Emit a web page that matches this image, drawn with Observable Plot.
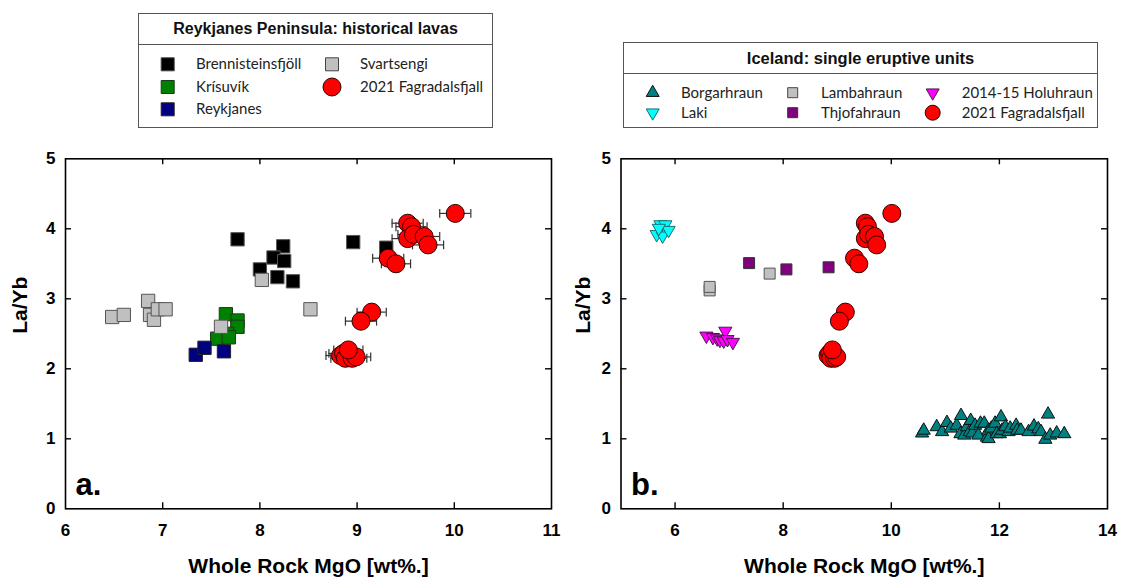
<!DOCTYPE html>
<html>
<head>
<meta charset="utf-8">
<script src="https://cdn.jsdelivr.net/npm/d3@7"></script>
<script src="https://cdn.jsdelivr.net/npm/@observablehq/plot@0.6"></script>
<style>
body { margin: 0; background: #fff; }
#root { position: relative; width: 1121px; height: 579px; overflow: hidden; background: #fff; font-family: "Liberation Sans", Arial, sans-serif; }
.panel { position: absolute; top: 130px; }
.legend { position: absolute; border: 1px solid #555; background: #fff; box-sizing: border-box; }
.legend .title { position: absolute; left: 0; right: 0; top: 0; border-bottom: 1px solid #555; font-weight: bold; text-align: center; color: #111; }
.legend .lab { position: absolute; font-family: Lato, "Open Sans", sans-serif; font-size: 15px; line-height: 1; transform: translateY(-52%); white-space: nowrap; color: #222; }
.legend svg { position: absolute; left: 0; top: 0; overflow: visible; }
</style>
</head>
<body>
<div id="root"></div>
<script>
// ---------- DATA ----------
// Panel a: Reykjanes Peninsula historical lavas
const brennX = [7.77, 8.24, 8.14, 8.25, 8.00, 8.18, 8.34, 8.96, 9.30];
const brennY = [3.85, 3.75, 3.59, 3.54, 3.42, 3.31, 3.25, 3.81, 3.73];
const krisX = [7.65, 7.77, 7.77, 7.66, 7.56, 7.68];
const krisY = [2.78, 2.69, 2.60, 2.50, 2.43, 2.45];
const reykX = [7.34, 7.43, 7.63];
const reykY = [2.20, 2.30, 2.25];
const svartX = [6.48, 6.60, 6.85, 6.87, 6.91, 6.95, 7.03, 7.60, 8.02, 8.52];
const svartY = [2.74, 2.77, 2.97, 2.77, 2.70, 2.85, 2.85, 2.60, 3.27, 2.85];
// 2021 Fagradalsfjall (both panels), with MgO error (±)
const fagX = [10.01, 9.52, 9.56, 9.52, 9.58, 9.69, 9.73, 9.32, 9.40, 9.15, 9.04, 8.83, 8.86, 8.88, 8.95, 8.99, 8.91];
const fagY = [4.22, 4.08, 4.03, 3.86, 3.92, 3.89, 3.77, 3.58, 3.50, 2.81, 2.68, 2.19, 2.22, 2.15, 2.15, 2.17, 2.27];
const fagErr = [0.16, 0.16, 0.16, 0.16, 0.16, 0.16, 0.16, 0.16, 0.15, 0.15, 0.16, 0.15, 0.15, 0.15, 0.15, 0.15, 0.15];
// Panel b: Iceland single eruptive units
const borgX = [10.57, 10.60, 10.84, 10.94, 11.03, 11.10, 11.21, 11.29, 11.28, 11.35, 11.40, 11.47, 11.45, 11.50, 11.55, 11.61, 11.65, 11.72, 11.77, 11.80, 11.80, 11.85, 11.92, 11.95, 12.01, 12.03, 12.05, 12.11, 12.17, 12.20, 12.31, 12.33, 12.40, 12.54, 12.64, 12.72, 12.77, 12.85, 12.90, 12.94, 13.06, 13.20];
const borgY = [1.08, 1.12, 1.17, 1.10, 1.23, 1.15, 1.19, 1.33, 1.07, 1.05, 1.17, 1.26, 1.10, 1.08, 1.19, 1.05, 1.22, 1.22, 1.02, 1.12, 1.00, 1.15, 1.22, 1.07, 1.07, 1.31, 1.12, 1.17, 1.10, 1.15, 1.19, 1.12, 1.12, 1.10, 1.18, 1.14, 1.10, 0.99, 1.35, 1.05, 1.08, 1.07];
const lakiX = [5.73, 5.82, 5.66, 5.77, 5.88, 5.70];
const lakiY = [4.06, 4.06, 3.92, 3.90, 3.98, 4.01];
const lambX = [6.64, 6.64, 7.75];
const lambY = [3.12, 3.17, 3.36];
const thjoX = [7.37, 8.06, 8.84];
const thjoY = [3.51, 3.42, 3.45];
const holuX = [6.58, 6.70, 6.78, 6.83, 6.90, 6.93, 6.97, 7.07];
const holuY = [2.47, 2.45, 2.43, 2.41, 2.40, 2.54, 2.42, 2.38];

const yTicks = [0, 1, 2, 3, 4, 5];
const xTicksA = [6, 7, 8, 9, 10, 11];
const xTicksB = [6, 8, 10, 12, 14];

const legendA = {
  title: "Reykjanes Peninsula: historical lavas",
  items: [
    {name: "Brennisteinsfjöll", shape: "square", fill: "#000000", stroke: "#444"},
    {name: "Krísuvík", shape: "square", fill: "#008000", stroke: "#1b3a1b"},
    {name: "Reykjanes", shape: "square", fill: "#000080", stroke: "#222"},
    {name: "Svartsengi", shape: "square", fill: "#c0c0c0", stroke: "#444"},
    {name: "2021 Fagradalsfjall", shape: "circle", fill: "#ff0000", stroke: "#300"}
  ]
};
const legendB = {
  title: "Iceland: single eruptive units",
  items: [
    {name: "Borgarhraun", shape: "up", fill: "#008080", stroke: "#111"},
    {name: "Laki", shape: "down", fill: "#00ffff", stroke: "#1a6e6e"},
    {name: "Lambahraun", shape: "square", fill: "#c0c0c0", stroke: "#444"},
    {name: "Thjofahraun", shape: "square", fill: "#800080", stroke: "#333"},
    {name: "2014-15 Holuhraun", shape: "down", fill: "#ff00ff", stroke: "#4a1a4a"},
    {name: "2021 Fagradalsfjall", shape: "circle", fill: "#ff0000", stroke: "#300"}
  ]
};

// ---------- helpers ----------
const zip = (xs, ys) => xs.map((x, i) => ({x, y: ys[i]}));
const sqrt3 = Math.sqrt(3);
const triDown = {draw(ctx, size) {
  const y = Math.sqrt(size / (sqrt3 * 3));
  ctx.moveTo(0, y * 2); ctx.lineTo(-sqrt3 * y, -y); ctx.lineTo(sqrt3 * y, -y); ctx.closePath();
}};
const vbar = {draw(ctx, size) {
  const h = Math.sqrt(size) / 2;
  ctx.moveTo(0, -h); ctx.lineTo(0, h);
}};
const symbolFor = s => s === "square" ? d3.symbolSquare : s === "circle" ? d3.symbolCircle : s === "up" ? d3.symbolTriangle : triDown;

const fag = fagX.map((x, i) => ({x, y: fagY[i], e: fagErr[i]}));

function panel({xDomain, xTicks, xTopTicks, left, width, marginLeft, marginRight, marks, label, ylabDx}) {
  const height = 449, marginTop = 28.3, marginBottom = 70.7;
  const fw = width - marginLeft - marginRight, fh = height - marginTop - marginBottom;
  const tk = 6;
  const inner = yTicks.slice(1, -1);
  const chart = Plot.plot({
    width, height, marginLeft, marginRight, marginTop, marginBottom,
    style: {fontFamily: '"Liberation Sans", Arial, sans-serif', background: "transparent", color: "#000"},
    x: {domain: xDomain, label: null},
    y: {domain: [0, 5], label: null},
    marks: [
      ...marks,
      Plot.ruleX(xTopTicks, {insetTop: fh - tk, stroke: "#000", strokeWidth: 1.4}),
      Plot.ruleX(xTopTicks, {insetBottom: fh - tk, stroke: "#000", strokeWidth: 1.4}),
      Plot.ruleY(inner, {insetRight: fw - tk, stroke: "#000", strokeWidth: 1.4}),
      Plot.ruleY(inner, {insetLeft: fw - tk, stroke: "#000", strokeWidth: 1.4}),
      Plot.frame({stroke: "#000", strokeWidth: 1.6}),
      Plot.axisX(xTicks, {anchor: "bottom", tickSize: 0, tickPadding: 15, fontSize: 17, fontWeight: "bold", label: null, tickFormat: d => String(d)}),
      Plot.axisY(yTicks, {anchor: "left", tickSize: 0, tickPadding: 10, fontSize: 17, fontWeight: "bold", label: null, tickFormat: d => String(d)}),
      Plot.text(["Whole Rock MgO [wt%.]"], {text: d => d, frameAnchor: "bottom", dy: 57, fontSize: 21, fontWeight: "bold", lineAnchor: "middle"}),
      Plot.text(["La/Yb"], {text: d => d, frameAnchor: "left", dx: ylabDx, rotate: -90, fontSize: 21, fontWeight: "bold", lineAnchor: "middle"}),
      Plot.text([label], {text: d => d, frameAnchor: "bottom-left", dx: 10, dy: -14, textAnchor: "start", lineAnchor: "bottom", fontSize: 31, fontWeight: "bold"})
    ]
  });
  chart.classList.add("panel");
  chart.style.left = left + "px";
  chart.style.position = "absolute";
  chart.style.top = "130px";
  return chart;
}

const sq = (data, fill, stroke, r) => Plot.dot(data, {x: "x", y: "y", symbol: "square", r, fill, stroke, strokeWidth: 1});

const root = document.getElementById("root");

// Panel a
root.appendChild(panel({
  xDomain: [6, 11], xTicks: xTicksA, xTopTicks: [7, 8, 9, 10],
  left: 0, width: 570, marginLeft: 65, marginRight: 19, label: "a.", ylabDx: -45,
  marks: [
    sq(zip(brennX, brennY), "#000000", "#555", 7.5),
    sq(zip(krisX, krisY), "#008000", "#1b3a1b", 7.5),
    sq(zip(reykX, reykY), "#000080", "#222", 7.5),
    sq(zip(svartX, svartY), "#c0c0c0", "#555", 7.5),
    Plot.ruleY(fag, {y: "y", x1: d => d.x - d.e, x2: d => d.x + d.e, stroke: "#333", strokeWidth: 1.2}),
    Plot.dot(fag, {x: d => d.x - d.e, y: "y", symbol: vbar, r: 5, fill: "none", stroke: "#333", strokeWidth: 1.2}),
    Plot.dot(fag, {x: d => d.x + d.e, y: "y", symbol: vbar, r: 5, fill: "none", stroke: "#333", strokeWidth: 1.2}),
    Plot.dot(fag, {x: "x", y: "y", r: 9, fill: "#ff0000", stroke: "#300", strokeWidth: 1})
  ]
}));

// Panel b
root.appendChild(panel({
  xDomain: [5, 14], xTicks: xTicksB, xTopTicks: [6, 8, 10, 12],
  left: 570, width: 551, marginLeft: 50.5, marginRight: 14, label: "b.", ylabDx: -38,
  marks: [
    Plot.dot(zip(borgX, borgY), {x: "x", y: "y", symbol: "triangle", r: 4.9, fill: "#008080", stroke: "#111", strokeWidth: 1}),
    Plot.dot(zip(lakiX, lakiY), {x: "x", y: "y", symbol: triDown, r: 4.9, fill: "#00ffff", stroke: "#1a6e6e", strokeWidth: 1}),
    sq(zip(lambX, lambY), "#c0c0c0", "#555", 6.2),
    sq(zip(thjoX, thjoY), "#800080", "#333", 6.2),
    Plot.dot(zip(holuX, holuY), {x: "x", y: "y", symbol: triDown, r: 4.9, fill: "#ff00ff", stroke: "#4a1a4a", strokeWidth: 1}),
    Plot.dot(fag, {x: "x", y: "y", r: 9, fill: "#ff0000", stroke: "#300", strokeWidth: 1})
  ]
}));

// ---------- legends ----------
function legend(spec, box, titleH, titleSize, pos, sizes) {
  const div = document.createElement("div");
  div.className = "legend";
  Object.assign(div.style, {left: box.x + "px", top: box.y + "px", width: box.w + "px", height: box.h + "px"});
  const t = document.createElement("div");
  t.className = "title";
  t.textContent = spec.title;
  Object.assign(t.style, {height: titleH + "px", lineHeight: titleH + "px", fontSize: titleSize + "px"});
  div.appendChild(t);
  const svg = d3.create("svg").attr("width", box.w).attr("height", box.h);
  spec.items.forEach((it, i) => {
    const p = pos[i];
    svg.append("path")
      .attr("transform", `translate(${p.cx},${p.cy})`)
      .attr("d", d3.symbol(symbolFor(it.shape), sizes[it.shape])())
      .attr("fill", it.fill).attr("stroke", it.stroke).attr("stroke-width", 1);
    const l = document.createElement("div");
    l.className = "lab";
    l.textContent = it.name;
    Object.assign(l.style, {left: p.tx + "px", top: p.cy + "px"});
    div.appendChild(l);
  });
  div.appendChild(svg.node());
  root.appendChild(div);
}

legend(legendA, {x: 138, y: 13, w: 355, h: 115}, 30, 16, [
  {cx: 28.7, cy: 50.3, tx: 57}, {cx: 28.7, cy: 73, tx: 57}, {cx: 28.7, cy: 95.3, tx: 57},
  {cx: 193, cy: 50.3, tx: 221}, {cx: 193, cy: 73, tx: 221}
], {square: 169, circle: 254});

legend(legendB, {x: 623, y: 42, w: 475, h: 86}, 30, 16.5, [
  {cx: 28.7, cy: 49.7, tx: 57}, {cx: 28.7, cy: 69.7, tx: 57},
  {cx: 168.7, cy: 49.7, tx: 197}, {cx: 168.7, cy: 69.7, tx: 197},
  {cx: 308.7, cy: 49.7, tx: 337.7}, {cx: 308.7, cy: 69.7, tx: 337.7}
], {square: 100, circle: 177, up: 73, down: 73});
</script>
</body>
</html>
